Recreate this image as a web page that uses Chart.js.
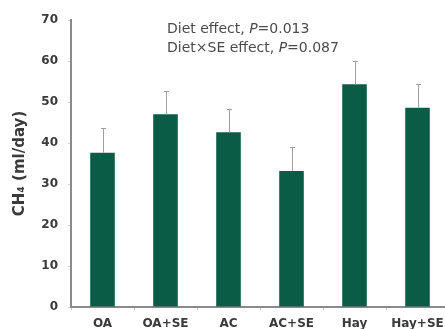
<!DOCTYPE html>
<html>
<head>
<meta charset="utf-8">
<script src="https://cdn.jsdelivr.net/npm/chart.js@4/dist/chart.umd.min.js"></script>
<style>
  html, body { margin: 0; padding: 0; background: #fff; overflow: hidden; }
  #wrap { width: 455px; height: 329px; }
</style>
</head>
<body>
<div id="wrap"><canvas id="c" width="455" height="329"></canvas></div>
<script>
// Methane production by diet, with and without SE
const categories = ['OA', 'OA+SE', 'AC', 'AC+SE', 'Hay', 'Hay+SE'];
const ch4Means = [37.6, 47.0, 42.6, 33.2, 54.3, 48.6];
const ch4Errors = [6.0, 5.7, 5.7, 5.8, 5.8, 5.7];
const yTicks = [0, 10, 20, 30, 40, 50, 60, 70];
const statLines = [
  ['Diet effect, ', 'P', '=0.013'],
  ['Diet\u00D7SE effect, ', 'P', '=0.087']
];

const barColor = '#0b5c46';
const axisColor = '#8a8a8a';
const labelColor = '#3a3a3a';
const fontFamily = '"DejaVu Sans", Arial, sans-serif';

// Error whiskers drawn above each bar
const errorBars = {
  id: 'errorBars',
  afterDatasetsDraw(chart) {
    const { ctx, scales: { x, y } } = chart;
    ctx.save();
    ctx.strokeStyle = '#a0a0a0';
    ctx.lineWidth = 1;
    ch4Means.forEach((v, i) => {
      const px = Math.round(x.getPixelForValue(i)) + 0.5;
      const top = Math.round(y.getPixelForValue(v + ch4Errors[i])) + 0.5;
      const base = y.getPixelForValue(v);
      ctx.beginPath();
      ctx.moveTo(px, base);
      ctx.lineTo(px, top);
      ctx.moveTo(px - 2.5, top);
      ctx.lineTo(px + 2.5, top);
      ctx.stroke();
    });
    ctx.restore();
  }
};

// Statistics note in the upper part of the plot
const statNote = {
  id: 'statNote',
  afterDraw(chart) {
    const { ctx } = chart;
    ctx.save();
    ctx.fillStyle = '#4a4a4a';
    ctx.textBaseline = 'middle';
    const x0 = 167;
    statLines.forEach((parts, li) => {
      let x = x0;
      const yy = 29 + li * 19;
      parts.forEach((t, pi) => {
        ctx.font = (pi === 1 ? 'italic ' : '') + '14px ' + fontFamily;
        ctx.fillText(t, x, yy);
        x += ctx.measureText(t).width;
      });
    });
    ctx.restore();
  }
};

new Chart(document.getElementById('c'), {
  type: 'bar',
  data: {
    labels: categories,
    datasets: [{
      data: ch4Means,
      backgroundColor: barColor,
      borderWidth: 0,
      barPercentage: 0.39,
      categoryPercentage: 1
    }]
  },
  options: {
    responsive: false,
    animation: false,
    layout: { padding: { top: 20, right: 6, left: 11, bottom: 0 } },
    plugins: { legend: { display: false }, tooltip: { enabled: false } },
    scales: {
      x: {
        grid: { display: true, drawOnChartArea: false, tickLength: 3, color: '#c8c8c8', offset: true },
        border: { color: axisColor, width: 2 },
        ticks: {
          color: labelColor,
          font: { family: fontFamily, size: 12, weight: 'bold' },
          padding: 7,
          maxRotation: 0,
          autoSkip: false
        },
        afterFit(s) { s.height = 22; }
      },
      y: {
        min: 0,
        max: 70,
        afterBuildTicks(s) { s.ticks = yTicks.map(v => ({ value: v })); },
        grid: { display: true, drawOnChartArea: false, tickLength: 3, color: '#d0d0d0' },
        border: { color: axisColor, width: 2 },
        ticks: {
          color: labelColor,
          font: { family: fontFamily, size: 12, weight: 'bold' },
          padding: 10
        },
        title: {
          display: true,
          text: 'CH\u2084 (ml/day)',
          color: labelColor,
          font: { family: fontFamily, size: 15, weight: 'bold' },
          padding: { top: 0, bottom: 0 }
        },
        afterFit(s) { s.width = 60; }
      }
    }
  },
  plugins: [errorBars, statNote]
});
</script>
</body>
</html>
